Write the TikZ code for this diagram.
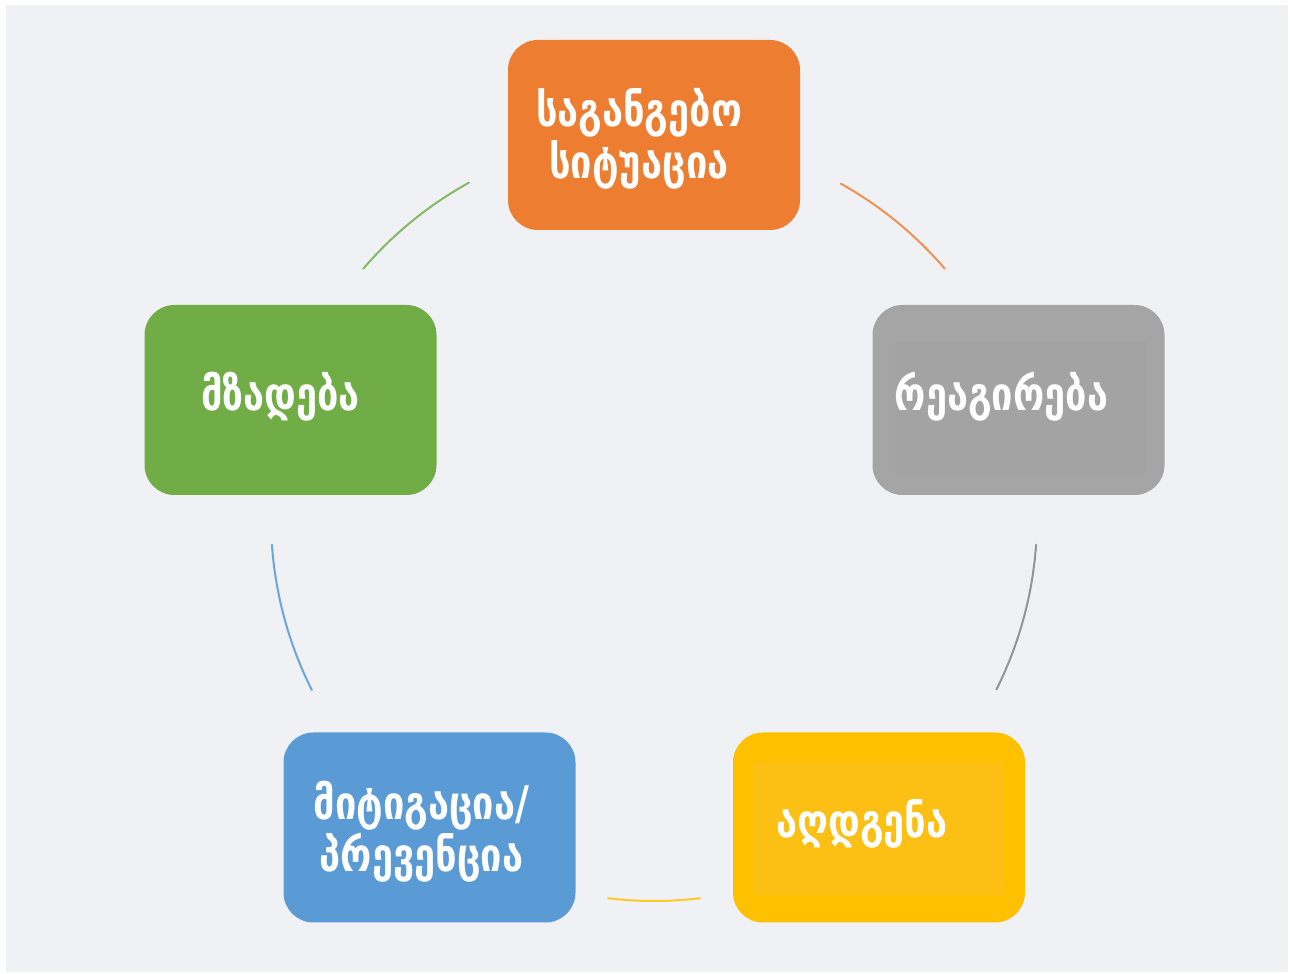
\documentclass[tikz,border=0pt]{standalone}
\usepackage{fontspec}
\usetikzlibrary{calc}
\newfontfamily\geofont{DejaVu Sans}
\definecolor{bgc}{HTML}{F0F1F5}
\definecolor{corange}{HTML}{ED7D31}
\definecolor{cgray}{HTML}{A5A5A5}
\definecolor{cgrayin}{HTML}{A3A3A3}
\definecolor{cyellow}{HTML}{FFC000}
\definecolor{cyellowin}{HTML}{FCC014}
\definecolor{cblue}{HTML}{5B9BD5}
\definecolor{cgreen}{HTML}{70AD47}
\tikzset{
  box/.style={rectangle, rounded corners=30pt, minimum width=292pt, minimum height=190pt, inner sep=0pt, draw=none},
  lbl/.style={text=white, font=\geofont\bfseries\fontsize{38}{43}\selectfont, align=center, inner sep=0pt, yscale=1.22, transform shape},
  cyc/.style={line width=2pt, line cap=round},
}
\begin{document}
\begin{tikzpicture}[x=1pt,y=1pt]
\useasboundingbox (0,0) rectangle (1290,974);
\fill[white] (0,0) rectangle (1290,974);
\fill[bgc] (6,2) rectangle (1288,969);
% boxes
\node[box, fill=corange] (b1) at (654,839) {};
\node[box, fill=cgray] (b2) at (1018.5,574) {};
\node[box, fill=cyellow] (b3) at (879,146.5) {};
\node[box, fill=cblue] (b4) at (429.5,146.5) {};
\node[box, fill=cgreen] (b5) at (290.5,574) {};
% faint inner panels
\fill[cgrayin] (895,633) rectangle (1146,501);
\fill[cyellowin] (753,212) rectangle (1004,79);
% labels
\node[lbl] (t1) at ([xshift=-15pt,yshift=-4pt]b1.center) {საგანგებო\\სიტუაცია};
\node[lbl] (t2) at ([xshift=-17pt,yshift=3pt]b2.center) {რეაგირება};
\node[lbl] (t3) at ([xshift=-17pt,yshift=4pt]b3.center) {აღდგენა};
\node[lbl] (t4) at ([xshift=-8pt,yshift=-4pt]b4.center) {მიტიგაცია/\\პრევენცია};
\node[lbl] (t5) at ([xshift=-10pt,yshift=3pt]b5.center) {მზადება};
% cycle arcs
\coordinate (c) at (654,456);
\coordinate (a1) at ($(c)+(60.8:383pt)$);
\coordinate (a2) at ($(c)+(-4:383pt)$);
\coordinate (a3) at ($(c)+(-96.9:383pt)$);
\coordinate (a4) at ($(c)+(-153.3:383pt)$);
\coordinate (a5) at ($(c)+(139.4:383pt)$);
\draw[cyc, corange!85] (a1) arc[start angle=60.8, end angle=40.6, radius=383pt];
\draw[cyc, cgray!90!black] (a2) arc[start angle=-4, end angle=-26.6, radius=383pt];
\draw[cyc, cyellow!85] (a3) arc[start angle=-96.9, end angle=-83.1, radius=383pt];
\draw[cyc, cblue!90] (a4) arc[start angle=-153.3, end angle=-176, radius=383pt];
\draw[cyc, cgreen!85] (a5) arc[start angle=139.4, end angle=118.9, radius=383pt];
\end{tikzpicture}
\end{document}
